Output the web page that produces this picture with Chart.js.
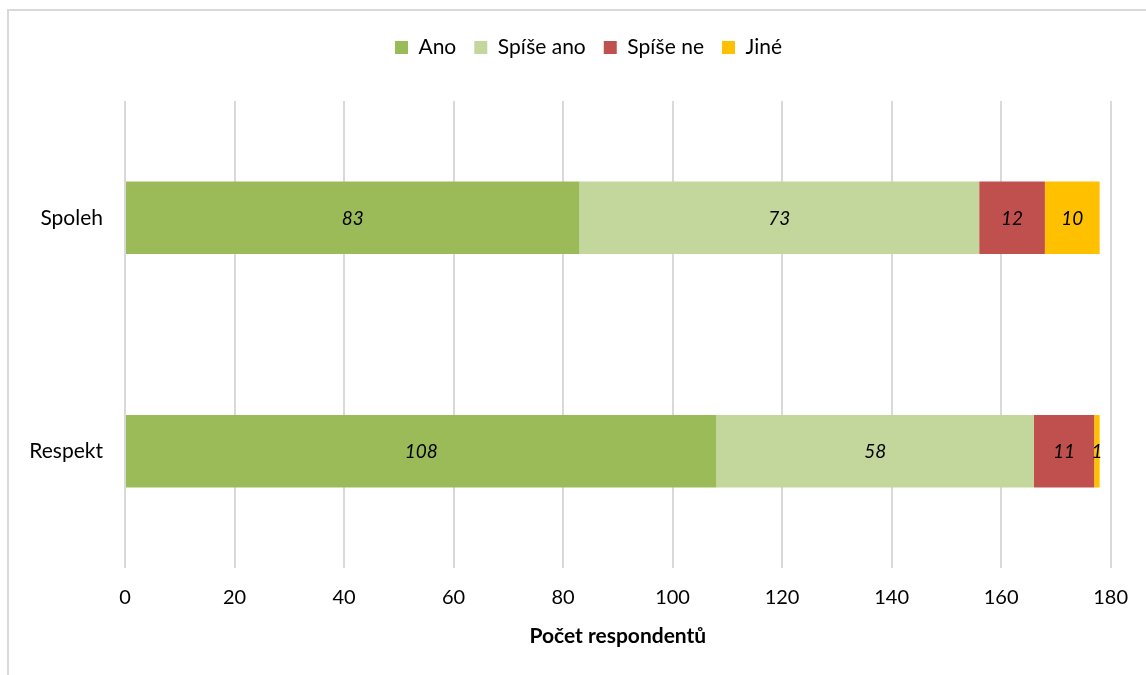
<!DOCTYPE html>
<html>
<head>
<meta charset="utf-8">
<script src="https://cdn.jsdelivr.net/npm/chart.js@4/dist/chart.umd.min.js"></script>
<style>
  html, body { margin: 0; padding: 0; background: #fff; }
  #wrap { position: relative; width: 1146px; height: 675px; overflow: hidden; }
  #frame { position: absolute; left: 7px; top: 9px; width: 1200px; height: 700px;
           border-top: 2px solid #d9d9d9; border-left: 2px solid #d9d9d9; box-sizing: border-box; }
  canvas { position: absolute; left: 0; top: 0; }
</style>
</head>
<body>
<div id="wrap">
  <div id="frame"></div>
  <canvas id="c" width="1146" height="675"></canvas>
</div>
<script>
// Categories and answer counts per periodical
const categories = ['Spoleh', 'Respekt'];
const seriesNames = ['Ano', 'Spíše ano', 'Spíše ne', 'Jiné'];
const ano = [83, 108];
const spiseAno = [73, 58];
const spiseNe = [12, 11];
const jine = [10, 1];
const xTicks = [0, 20, 40, 60, 80, 100, 120, 140, 160, 180];
const axisTitle = 'Počet respondentů';

const colors = ['#9BBB59', '#C3D69B', '#C0504D', '#FFC000'];
const values = [ano, spiseAno, spiseNe, jine];
const FONT = 'Lato, "Open Sans", sans-serif';

// Writes each segment's value in italics at the segment's centre
const segmentLabels = {
  id: 'segmentLabels',
  afterDatasetsDraw(chart) {
    const ctx = chart.ctx;
    ctx.save();
    ctx.font = 'italic 19px ' + FONT;
    ctx.fillStyle = '#000';
    ctx.textAlign = 'center';
    ctx.textBaseline = 'middle';
    chart.data.datasets.forEach((ds, di) => {
      const meta = chart.getDatasetMeta(di);
      meta.data.forEach((el, i) => {
        const p = el.getCenterPoint();
        ctx.fillText(String(ds.data[i]), p.x, p.y + 1);
      });
    });
    ctx.restore();
  }
};

// Centres the legend over the span from x = 65 to the plot's right edge
const legendSpan = {
  id: 'legendSpan',
  afterLayout(chart) {
    if (chart.legend) chart.legend.left = 65;
  }
};

new Chart(document.getElementById('c'), {
  type: 'bar',
  data: {
    labels: categories,
    datasets: seriesNames.map((name, k) => ({
      label: name,
      data: values[k],
      backgroundColor: colors[k],
      borderWidth: 0,
      barPercentage: 0.31,
      categoryPercentage: 1
    }))
  },
  options: {
    indexAxis: 'y',
    responsive: false,
    animation: false,
    layout: { padding: { left: 8, right: 34, top: 19, bottom: 0 } },
    plugins: {
      legend: {
        position: 'top',
        labels: {
          boxWidth: 13, boxHeight: 13, padding: 18,
          color: '#000',
          font: { family: FONT, size: 21 }
        }
      },
      tooltip: { enabled: false }
    },
    scales: {
      x: {
        type: 'linear',
        stacked: true,
        min: 0, max: 180,
        afterBuildTicks(s) { s.ticks = xTicks.map(v => ({ value: v })); },
        afterFit(s) { s.height = 107; },
        grid: { color: '#d9d9d9', lineWidth: 2, drawTicks: false },
        border: { display: false },
        ticks: { color: '#000', padding: 18, font: { family: FONT, size: 20 } },
        title: {
          display: true, text: axisTitle, color: '#000',
          font: { family: FONT, size: 21, weight: 'bold' },
          padding: { top: 0, bottom: 26 }
        }
      },
      xTop: {
        type: 'linear',
        position: 'top',
        display: true,
        grid: { display: false },
        border: { display: false },
        ticks: { display: false },
        afterFit(s) { s.height = 33; }
      },
      y: {
        type: 'category',
        stacked: true,
        afterFit(s) { s.width = 117; },
        grid: { display: false, drawTicks: false },
        border: { display: false },
        ticks: { color: '#000', padding: 22, font: { family: FONT, size: 21 } }
      }
    }
  },
  plugins: [segmentLabels, legendSpan]
});
</script>
</body>
</html>
